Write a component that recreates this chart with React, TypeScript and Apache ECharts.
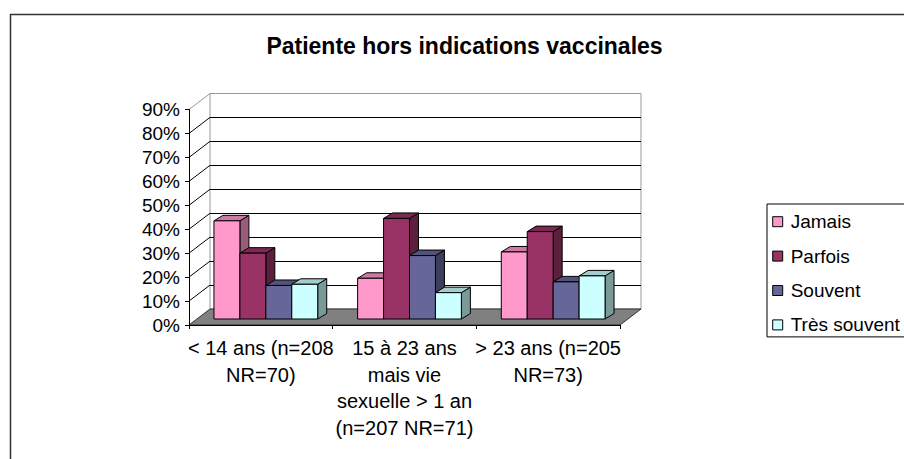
import React, { useEffect, useRef } from 'react';
import * as echarts from 'echarts';

const categories = [
  '< 14 ans (n=208\nNR=70)',
  '15 à 23 ans\nmais vie\nsexuelle > 1 an\n(n=207 NR=71)',
  '> 23 ans (n=205\nNR=73)',
];
const seriesNames = ['Jamais', 'Parfois', 'Souvent', 'Très souvent'];
const jamais = [41, 17, 28];
const parfois = [27.5, 42, 36.5];
const souvent = [14, 26.5, 15.5];
const tresSouvent = [14.5, 11, 18];
const yTicks = [0, 10, 20, 30, 40, 50, 60, 70, 80, 90];
const seriesValues = [jamais, parfois, souvent, tresSouvent];

const colors = ['#FF99CC', '#993366', '#666699', '#CCFFFF'];
const FONT = 'Liberation Sans, Arial, sans-serif';

// depth offsets (back wall -> front plane, back wall -> bar plane, bar depth)
const DX = -21, DY = 16;
const BX = -16, BY = 10;
const BDX = 9, BDY = -5.5;

function shade(hex: string, f: number) {
  const n = parseInt(hex.slice(1), 16);
  const r = Math.round(((n >> 16) & 255) * f);
  const g = Math.round(((n >> 8) & 255) * f);
  const b = Math.round((n & 255) * f);
  return `rgb(${r},${g},${b})`;
}

function makeBar(si: number) {
  return (params: any, api: any) => {
    const cat = api.value(0);
    const v = api.value(1);
    const base = api.coord([cat, 0]);
    const top = api.coord([cat, v]);
    const band = api.size([1, 0])[0];
    const bw = (band * 26) / 144;
    const x0 = base[0] + BX + (si - 2) * bw;
    const x1 = x0 + bw;
    const yb = base[1] + BY;
    const yt = top[1] + BY;
    const c = colors[si];
    const stroke = { stroke: '#000', lineWidth: 1 };
    return {
      type: 'group',
      children: [
        {
          type: 'polygon',
          shape: { points: [[x1, yt], [x1 + BDX, yt + BDY], [x1 + BDX, yb + BDY], [x1, yb]] },
          style: { fill: shade(c, 0.6), ...stroke },
        },
        {
          type: 'polygon',
          shape: { points: [[x0, yt], [x1, yt], [x1 + BDX, yt + BDY], [x0 + BDX, yt + BDY]] },
          style: { fill: shade(c, 0.8), ...stroke },
        },
        {
          type: 'rect',
          shape: { x: x0, y: yt, width: bw, height: yb - yt },
          style: { fill: c, ...stroke },
        },
      ],
    };
  };
}

export default function App() {
  const ref = useRef<HTMLDivElement>(null);
  useEffect(() => {
    if (!ref.current) return;
    const chart = echarts.init(ref.current, undefined, { renderer: 'svg' });
    const frameSeries: any = {
      type: 'custom',
      xAxisIndex: 0,
      yAxisIndex: 0,
      silent: true,
      z: 1,
      data: [[0, 0]],
      encode: { x: 0, y: 1 },
      renderItem: (params: any, api: any) => {
        const cs = params.coordSys;
        const x = cs.x, y = cs.y, w = cs.width, h = cs.height;
        const children: any[] = [];
        children.push({
          type: 'polygon',
          shape: { points: [[x, y + h], [x + w, y + h], [x + w + DX, y + h + DY], [x + DX, y + h + DY]] },
          style: { fill: '#808080', stroke: '#333', lineWidth: 1 },
        });
        for (const t of yTicks) {
          if (t === 0) continue;
          const p = api.coord([0, t]);
          children.push({
            type: 'line',
            shape: { x1: x, y1: p[1], x2: x + DX, y2: p[1] + DY },
            style: { stroke: t === 90 ? '#999' : '#000', lineWidth: 1 },
          });
        }
        return { type: 'group', children };
      },
    };
    const barSeries = seriesNames.map((name, si) => ({
      type: 'custom',
      name,
      xAxisIndex: 0,
      yAxisIndex: 0,
      z: 3,
      itemStyle: { color: colors[si] },
      data: seriesValues[si].map((v, i) => [i, v]),
      encode: { x: 0, y: 1 },
      renderItem: makeBar(si),
    }));
    const gridColors = yTicks.map((t) => (t === 90 ? '#999' : '#000'));
    chart.setOption({
      animation: false,
      backgroundColor: '#fff',
      graphic: [
        {
          type: 'rect',
          shape: { x: 10.5, y: 14.5, width: 1200, height: 1200 },
          style: { fill: 'none', stroke: '#333', lineWidth: 1.5 },
          silent: true,
        },
        {
          type: 'text',
          x: 464.5,
          y: 46,
          style: {
            text: 'Patiente hors indications vaccinales',
            fontSize: 23,
            fontWeight: 'bold',
            fontFamily: FONT,
            fill: '#000',
            align: 'center',
            verticalAlign: 'middle',
          },
        },
      ],
      grid: [
        { left: 210, top: 93.5, width: 431, height: 215.5, show: true, borderColor: '#999', borderWidth: 1, backgroundColor: '#fff' },
        { left: 189, top: 109.5, width: 431, height: 215.5 },
      ],
      xAxis: [
        { type: 'category', gridIndex: 0, data: categories, axisLine: { show: false }, axisTick: { show: false }, axisLabel: { show: false }, splitLine: { show: false } },
        {
          type: 'category',
          gridIndex: 1,
          data: categories,
          z: 5,
          axisLine: { show: true, lineStyle: { color: '#000', width: 1 } },
          axisTick: { show: true, length: 4, lineStyle: { color: '#000' } },
          axisLabel: { interval: 0, fontSize: 20, lineHeight: 26.5, margin: 10, color: '#000', fontFamily: FONT },
          splitLine: { show: false },
        },
      ],
      yAxis: [
        {
          type: 'value',
          gridIndex: 0,
          min: 0,
          max: 90,
          interval: 10,
          axisLine: { show: false },
          axisTick: { show: false },
          axisLabel: { show: false },
          splitLine: { show: true, lineStyle: { color: gridColors, width: 1 } },
        },
        {
          type: 'value',
          gridIndex: 1,
          min: 0,
          max: 90,
          interval: 10,
          z: 5,
          axisLine: { show: true, lineStyle: { color: '#000', width: 1 } },
          axisTick: { show: true, length: 4, lineStyle: { color: '#000' } },
          axisLabel: { formatter: '{value}%', fontSize: 19, margin: 9, color: '#000', fontFamily: FONT },
          splitLine: { show: false },
        },
      ],
      legend: {
        orient: 'vertical',
        left: 767,
        top: 204,
        padding: [8.2, 200, 2.5, 5.2],
        itemGap: 15.4,
        itemWidth: 10,
        itemHeight: 10,
        icon: 'rect',
        selectedMode: false,
        borderColor: '#000',
        borderWidth: 1,
        textStyle: { fontSize: 19, lineHeight: 19, color: '#000', fontFamily: FONT, padding: [0, 0, 0, 3] },
        data: seriesNames.map((n, i) => ({ name: n, itemStyle: { color: colors[i], borderColor: '#000', borderWidth: 1 } })),
      },
      series: [frameSeries, ...barSeries],
    });
    return () => chart.dispose();
  }, []);
  return <div ref={ref} style={{ position: 'absolute', left: 0, top: 0, width: 904, height: 459 }} />;
}
